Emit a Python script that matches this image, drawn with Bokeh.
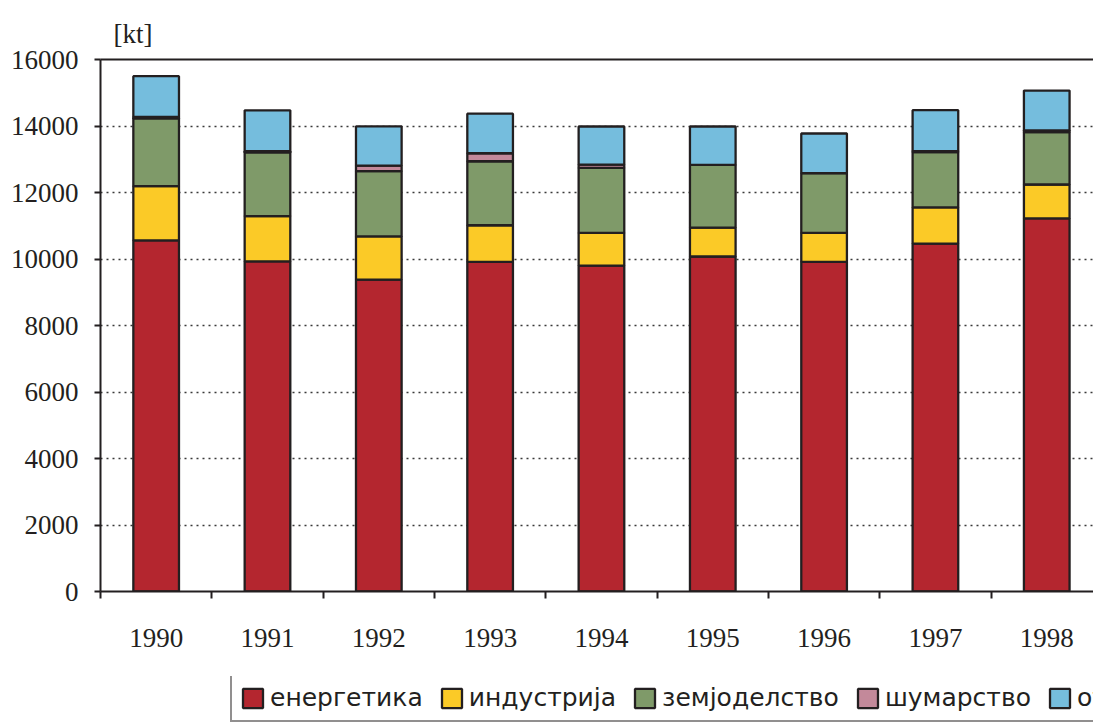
from bokeh.plotting import figure
from bokeh.layouts import column
from bokeh.models import (Range1d, FixedTicker, LinearAxis, Legend, LegendItem,
                          Grid, ColumnDataSource)
from bokeh.embed import file_html
from bokeh.resources import INLINE

# Emissions by sector, kt
years = [1990, 1991, 1992, 1993, 1994, 1995, 1996, 1997, 1998]
energy = [10560, 9930, 9380, 9915, 9800, 10075, 9915, 10465, 11220]
industry = [1630, 1360, 1300, 1100, 985, 870, 870, 1085, 1020]
agriculture = [2040, 1920, 1960, 1925, 1955, 1885, 1795, 1665, 1575]
forestry = [40, 30, 170, 240, 100, 0, 0, 30, 50]
waste = [1230, 1230, 1180, 1190, 1145, 1155, 1195, 1230, 1200]

sector_keys = ["energy", "industry", "agriculture", "forestry", "waste"]
sector_labels = ["енергетика", "индустрија", "земјоделство", "шумарство", "отпад"]
sector_colors = ["#B4262F", "#FBCA27", "#7F9A69", "#C3899A", "#75BDDD"]
y_ticks = [0, 2000, 4000, 6000, 8000, 10000, 12000, 14000, 16000]

source = ColumnDataSource(dict(year=years, energy=energy, industry=industry,
                               agriculture=agriculture, forestry=forestry,
                               waste=waste))

ink = "#231F20"
serif = "Liberation Serif"

p = figure(width=1093, height=676, frame_width=993, frame_height=532,
           output_backend="svg", toolbar_location=None,
           x_range=Range1d(years[0] - 0.5, years[-1] + 0.42),
           y_range=Range1d(0, 16000),
           x_axis_location=None, y_axis_location=None,
           min_border_left=100, min_border_right=0,
           min_border_top=59, min_border_bottom=85)
p.outline_line_color = None
p.background_fill_color = "white"
p.border_fill_color = "white"
p.xgrid.grid_line_color = None
p.ygrid.grid_line_color = None

# unit label above the value axis
p.title.text = "[kt]"
p.title.text_font = serif
p.title.text_font_size = "27px"
p.title.text_font_style = "normal"
p.title.text_color = ink
p.title.align = "left"
p.title.offset = 13
p.title.standoff = 22

# dotted horizontal grid
grid = Grid(dimension=1, ticker=FixedTicker(ticks=y_ticks[1:-1]),
            grid_line_color="#3a3a3a", grid_line_dash="2 4", grid_line_width=1.5)
p.add_layout(grid)

p.vbar_stack(sector_keys, x="year", width=0.41, source=source,
             color=sector_colors, line_color=ink, line_width=2.3)

# value axis
yaxis = LinearAxis(ticker=FixedTicker(ticks=y_ticks))
yaxis.axis_line_color = ink
yaxis.axis_line_width = 2
yaxis.major_tick_line_color = ink
yaxis.major_tick_line_width = 2
yaxis.major_tick_in = 0
yaxis.major_tick_out = 6
yaxis.minor_tick_line_color = None
yaxis.major_label_standoff = 16
yaxis.major_label_text_font = serif
yaxis.major_label_text_font_size = "27px"
yaxis.major_label_text_color = ink
p.add_layout(yaxis, "left")

# year axis: labels under the bars, ticks between them
xaxis = LinearAxis(ticker=FixedTicker(ticks=years,
                                      minor_ticks=[y - 0.5 for y in years]))
xaxis.axis_line_color = ink
xaxis.axis_line_width = 2
xaxis.major_tick_line_color = None
xaxis.major_tick_in = 0
xaxis.major_tick_out = 0
xaxis.minor_tick_line_color = ink
xaxis.minor_tick_line_width = 2
xaxis.minor_tick_in = 0
xaxis.minor_tick_out = 7
xaxis.major_label_standoff = 30
xaxis.major_label_text_font = serif
xaxis.major_label_text_font_size = "27px"
xaxis.major_label_text_color = ink
p.add_layout(xaxis, "below")

# top frame line
top = LinearAxis(ticker=FixedTicker(ticks=[]))
top.axis_line_color = ink
top.axis_line_width = 2
top.major_label_text_font_size = "0px"
top.major_tick_line_color = None
top.minor_tick_line_color = None
p.add_layout(top, "above")

# legend strip: same stacked glyphs, kept outside its visible range,
# so only the legend entries show
lp = figure(width=1093, height=46, output_backend="svg", toolbar_location=None,
            x_range=Range1d(0, 1), y_range=Range1d(0, 1),
            x_axis_location=None, y_axis_location=None,
            min_border_left=0, min_border_right=0,
            min_border_top=0, min_border_bottom=0)
lp.outline_line_color = None
lp.background_fill_color = "white"
lp.border_fill_color = "white"
lp.xgrid.grid_line_color = None
lp.ygrid.grid_line_color = None

legend_renderers = lp.vbar_stack(sector_keys, x="year", width=0.41, source=source,
                                 color=sector_colors, line_color=ink,
                                 line_width=2.3)

legend = Legend(items=[LegendItem(label=lab, renderers=[r])
                       for lab, r in zip(sector_labels, legend_renderers)],
                orientation="horizontal", location=(130, 0), margin=0)
legend.label_text_font = "DejaVu Sans"
legend.label_text_font_size = "25px"
legend.label_text_color = ink
legend.glyph_width = 25
legend.glyph_height = 24
legend.label_standoff = 5
legend.spacing = 16
legend.padding = 8
legend.border_line_color = ink
legend.border_line_width = 2
legend.background_fill_color = "white"
legend.background_fill_alpha = 1
lp.add_layout(legend, "center")

layout = column(p, lp, spacing=0)

open("out.html", "w").write(file_html(layout, INLINE))
